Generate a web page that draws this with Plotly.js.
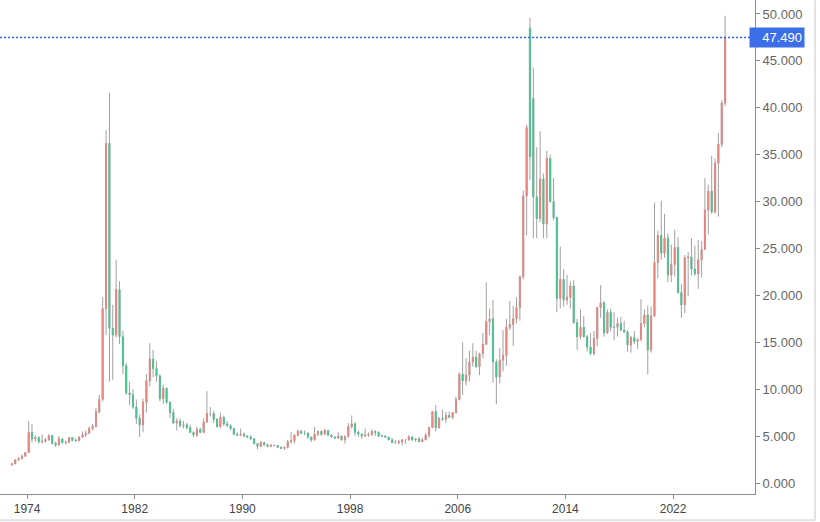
<!DOCTYPE html>
<html>
<head>
<meta charset="utf-8">
<script src="https://cdn.plot.ly/plotly-3.0.1.min.js"></script>
<style>
html,body{margin:0;padding:0;background:#fff;}
#chart{width:820px;height:522px;}
</style>
</head>
<body>
<div id="chart"></div>
<script>
// Quarterly candles, first = 1972 Q4, last = 2025 Q4
const firstYear = 1972, firstQuarter = 4;
const openP = [
 1.92,
 2.05,2.45,2.60,2.85,  3.25,5.40,4.70,4.85,  4.40,4.45,4.60,5.05,  4.25,4.05,4.70,4.30,
 4.35,4.85,4.55,4.50,  4.90,5.15,5.30,5.80,  6.05,7.60,8.90,18.6,  36.2,16.5,15.8,20.6,
 15.6,12.5,9.6,9.4,    8.1,6.9,6.2,8.6,      10.9,13.2,12.2,11.4,  9.0,10.1,8.6,7.5,
 6.4,6.6,6.1,6.2,      5.9,5.4,5.1,5.7,      5.4,6.5,7.4,7.4,      6.8,6.0,7.0,6.3,
 6.1,5.8,5.2,5.1,      5.2,5.0,4.9,4.7,      4.2,3.9,4.3,4.1,      3.9,4.0,4.0,3.8,
 3.7,3.8,4.4,4.5,      5.1,5.5,5.3,5.3,      4.9,4.6,5.2,5.5,      5.2,5.6,5.1,4.9,
 4.8,5.0,4.6,5.0,      6.0,6.3,5.4,5.2,      5.0,5.1,5.2,5.5,      5.4,5.0,5.0,4.9,
 4.6,4.3,4.3,4.4,      4.6,4.6,4.9,4.6,      4.7,4.4,4.6,5.1,      5.9,7.6,5.9,6.9,
 6.8,7.2,7.0,7.5,      8.9,11.6,10.9,11.5,   12.9,13.4,12.4,13.8,  14.8,17.2,17.5,12.9,
 11.3,13.1,13.6,16.6,  16.9,17.5,18.7,22.0,  30.6,48.5,41.0,30.5,  28.2,32.4,27.6,34.6,
 30.0,28.3,19.7,21.7,  19.5,19.8,21.0,17.1,  15.6,16.6,15.6,14.5,  13.8,15.4,18.7,19.2,
 16.0,18.2,16.6,16.6,  17.0,16.3,16.1,14.7,  15.5,15.1,15.3,17.0,  17.9,14.2,17.8,23.5,
 26.4,24.5,26.1,22.2,  23.3,25.1,20.3,19.0,  24.0,24.1,22.8,22.3,  23.8,24.9,29.1,31.1,
 28.9,34.1,36.1,40.5
];
const highP = [
 2.10,
 2.55,2.75,3.05,3.30,  6.60,6.30,5.10,5.00,  5.20,4.80,5.20,5.10,  4.40,5.00,4.75,4.50,
 4.90,4.90,4.75,4.95,  5.50,5.60,6.00,6.30,  8.00,9.40,19.8,37.6,  41.6,19.0,23.8,21.5,
 16.2,12.8,10.8,10.0,  8.9,7.3,9.0,11.6,     14.9,14.2,13.0,11.6,  10.5,10.2,8.7,7.9,
 6.9,6.9,6.6,6.4,      6.2,5.5,6.0,5.9,      6.9,9.8,8.1,7.7,      6.9,7.5,7.2,6.6,
 6.3,5.9,5.4,5.8,      5.4,5.1,5.1,4.8,      4.2,4.5,4.4,4.2,      4.2,4.1,4.0,3.9,
 3.9,4.6,5.4,5.2,      5.7,5.7,5.6,5.4,      4.9,6.0,5.6,5.6,      5.8,5.6,5.2,5.0,
 5.4,5.1,5.0,6.4,      7.2,6.5,5.6,5.3,      5.8,5.4,5.7,5.6,      5.5,5.2,5.1,4.9,
 4.8,4.6,4.6,4.6,      4.7,5.1,5.0,4.8,      4.9,4.8,5.3,6.0,      7.7,8.3,7.0,7.8,
 7.6,7.6,7.5,9.2,      11.8,15.0,13.3,14.1,  14.9,14.1,13.9,16.0,  21.4,18.6,19.5,13.2,
 14.4,16.3,17.5,19.4,  18.9,19.8,22.1,31.2,  38.2,49.6,44.3,35.8,  37.5,33.0,35.4,35.0,
 32.5,28.4,25.2,22.8,  22.2,21.5,21.6,17.5,  18.5,17.8,15.8,16.0,  16.2,18.8,21.1,19.4,
 18.5,18.6,18.2,17.6,  17.7,17.3,16.3,15.7,  16.2,15.4,19.6,18.5,  18.9,18.8,29.9,26.9,
 30.1,28.7,26.6,25.4,  27.0,26.2,21.2,24.3,  24.6,26.1,25.3,25.9,  25.8,32.5,31.8,34.9,
 34.6,37.3,40.8,49.8
];
const lowP = [
 1.88,
 2.02,2.35,2.55,2.80,  3.20,4.30,4.40,4.20,  4.20,4.30,4.50,4.10,  3.85,4.00,4.20,4.10,
 4.30,4.45,4.40,4.45,  4.85,4.90,5.25,5.60,  5.90,7.40,8.70,15.8,  10.8,11.0,15.5,14.8,
 11.6,9.4,8.3,7.9,     6.3,4.9,5.4,7.5,      10.3,11.3,10.8,8.7,   8.4,8.4,6.9,6.3,
 5.6,5.9,5.8,5.7,      5.3,4.9,4.9,5.3,      5.3,6.4,7.1,6.4,      5.9,5.9,6.1,6.0,
 5.6,5.1,5.0,5.0,      4.9,4.8,4.6,4.1,      3.6,3.9,3.9,3.8,      3.9,3.9,3.7,3.6,
 3.5,3.7,4.2,4.2,      5.0,5.2,5.1,4.7,      4.4,4.5,5.0,5.0,      5.2,5.1,4.8,4.7,
 4.7,4.5,4.2,4.8,      5.8,5.0,4.9,4.7,      4.9,4.9,5.0,5.0,      4.9,4.9,4.8,4.6,
 4.3,4.2,4.1,4.0,      4.2,4.5,4.5,4.4,      4.4,4.4,4.6,4.8,      5.9,5.5,5.8,6.6,
 6.4,6.9,6.8,7.4,      8.8,9.4,10.4,10.8,    12.4,12.3,11.5,13.3,  14.7,15.8,10.7,8.4,
 10.6,11.9,12.5,16.3,  14.6,17.0,17.3,21.7,  26.4,32.3,26.1,26.1,  27.8,26.1,26.1,29.9,
 28.0,18.2,18.6,18.8,  19.0,18.6,17.0,14.2,  15.3,15.5,14.0,13.6,  13.6,14.6,17.6,15.6,
 15.9,16.2,15.2,15.6,  16.2,16.0,14.0,13.9,  14.8,14.3,15.1,16.6,  11.6,13.9,17.7,21.8,
 23.8,24.0,21.4,21.4,  22.0,20.2,17.6,18.1,  19.9,22.1,22.1,20.7,  21.9,24.9,26.5,28.7,
 28.7,28.4,35.8,40.2
];
const closeP = [
 2.05,
 2.45,2.60,2.85,3.25,  5.40,4.70,4.85,4.40,  4.45,4.60,5.05,4.25,  4.05,4.70,4.30,4.35,
 4.85,4.55,4.50,4.90,  5.15,5.30,5.80,6.05,  7.60,8.90,18.6,36.2,  16.5,15.8,20.6,15.6,
 12.5,9.6,9.4,8.1,     6.9,6.2,8.6,10.9,     13.2,12.2,11.4,9.0,   10.1,8.6,7.5,6.4,
 6.6,6.1,6.2,5.9,      5.4,5.1,5.7,5.4,      6.5,7.4,7.4,6.8,      6.0,7.0,6.3,6.1,
 5.8,5.2,5.1,5.2,      5.0,4.9,4.7,4.2,      3.9,4.3,4.1,3.9,      4.0,4.0,3.8,3.7,
 3.8,4.4,4.5,5.1,      5.5,5.3,5.3,4.9,      4.6,5.2,5.5,5.2,      5.6,5.1,4.9,4.8,
 5.0,4.6,5.0,6.0,      6.3,5.4,5.2,5.0,      5.1,5.2,5.5,5.4,      5.0,5.0,4.9,4.6,
 4.3,4.3,4.4,4.6,      4.6,4.9,4.6,4.7,      4.4,4.6,5.1,5.9,      7.6,5.9,6.9,6.8,
 7.2,7.0,7.5,8.9,      11.6,10.9,11.5,12.9,  13.4,12.4,13.8,14.8,  17.2,17.5,12.9,11.3,
 13.1,13.6,16.6,16.9,  17.5,18.7,22.0,30.6,  37.9,34.8,30.5,28.2,  32.4,27.6,34.6,30.0,
 28.3,19.7,21.7,19.5,  19.8,21.0,17.1,15.6,  16.6,15.6,14.5,13.8,  15.4,18.7,19.2,16.0,
 18.2,16.6,16.6,17.0,  16.3,16.1,14.7,15.5,  15.1,15.3,17.0,17.9,  14.2,17.8,23.5,26.4,
 24.5,26.1,22.2,23.3,  25.1,20.3,19.0,24.0,  24.1,22.8,22.3,23.8,  24.9,29.1,31.1,28.9,
 34.1,36.1,40.5,47.49
];
const lastLabel = '47.490';
const yTickVals = [0,5,10,15,20,25,30,35,40,45,50];
const yTickText = ['0.000','5.000','10.000','15.000','20.000','25.000','30.000','35.000','40.000','45.000','50.000'];

// dates: mid-quarter
const qMonth = ['02-15','05-15','08-15','11-15'];
const dates = [];
{
  let y = firstYear, q = firstQuarter;
  for (let i = 0; i < closeP.length; i++) {
    dates.push(y + '-' + qMonth[q-1]);
    q++; if (q > 4) { q = 1; y++; }
  }
}
const bodyHigh = openP.map((o,i)=>Math.max(o, closeP[i]));
const bodyLow = openP.map((o,i)=>Math.min(o, closeP[i]));

const RED = '#f0857e', GREEN = '#3ecb8f', GRAY = '#a0a0a0';

const wicks = {
  type:'candlestick', x:dates, open:openP, high:highP, low:lowP, close:closeP,
  increasing:{line:{color:GRAY,width:1}, fillcolor:GRAY},
  decreasing:{line:{color:GRAY,width:1}, fillcolor:GRAY},
  whiskerwidth:0, hoverinfo:'skip', showlegend:false
};
const bodies = {
  type:'candlestick', x:dates, open:openP, high:bodyHigh, low:bodyLow, close:closeP,
  increasing:{line:{color:RED,width:0.6}, fillcolor:RED},
  decreasing:{line:{color:GREEN,width:0.6}, fillcolor:GREEN},
  whiskerwidth:0, hoverinfo:'skip', showlegend:false
};

const lastVal = closeP[closeP.length-1];

const layout = {
  width:820, height:522,
  margin:{l:0, r:65, t:0, b:28, pad:0},
  paper_bgcolor:'#ffffff', plot_bgcolor:'#ffffff',
  showlegend:false,
  boxgap:0.55,
  font:{family:'"Liberation Sans", Arial, sans-serif', size:12, color:'#555'},
  xaxis:{
    type:'date', range:['1971-12-29','2028-02-03'],
    tick0:'1974-01-01', dtick:'M96', tickformat:'%Y',
    showgrid:false, zeroline:false,
    showline:true, linecolor:'#8c8c8c', linewidth:1,
    ticks:'outside', ticklen:4, tickcolor:'#8c8c8c',
    tickfont:{size:12, color:'#444'},
    rangeslider:{visible:false}, fixedrange:true
  },
  yaxis:{
    side:'right', range:[-1.173, 51.49],
    tickvals:yTickVals, ticktext:yTickText,
    showgrid:false, zeroline:false,
    showline:true, linecolor:'#8c8c8c', linewidth:1,
    ticks:'outside', ticklen:4, tickcolor:'#8c8c8c',
    tickfont:{size:13, color:'#666'}, fixedrange:true
  },
  shapes:[
    {type:'line', xref:'paper', x0:0, x1:1, yref:'y', y0:lastVal, y1:lastVal,
     line:{color:'rgb(45,100,255)', width:1.3, dash:'2px,2px'}},
    {type:'line', xref:'paper', x0:1.0795, x1:1.0795, yref:'paper', y0:-0.053, y1:1,
     line:{color:'#e2e2e2', width:2}},
    {type:'line', xref:'paper', x0:0, x1:1.0795, yref:'paper', y0:-0.053, y1:-0.053,
     line:{color:'#e2e2e2', width:2}}
  ],
  annotations:[
    {xref:'paper', x:1, xanchor:'left', xshift:-6, yref:'y', y:lastVal, yanchor:'middle',
     text:lastLabel, showarrow:false, bgcolor:'#3b6ee8', borderpad:2,
     font:{color:'#ffffff', size:13, family:'"Liberation Sans", Arial, sans-serif'},
     width:50, align:'right'}
  ]
};

Plotly.newPlot('chart', [wicks, bodies], layout, {displayModeBar:false, staticPlot:true});
</script>
</body>
</html>
